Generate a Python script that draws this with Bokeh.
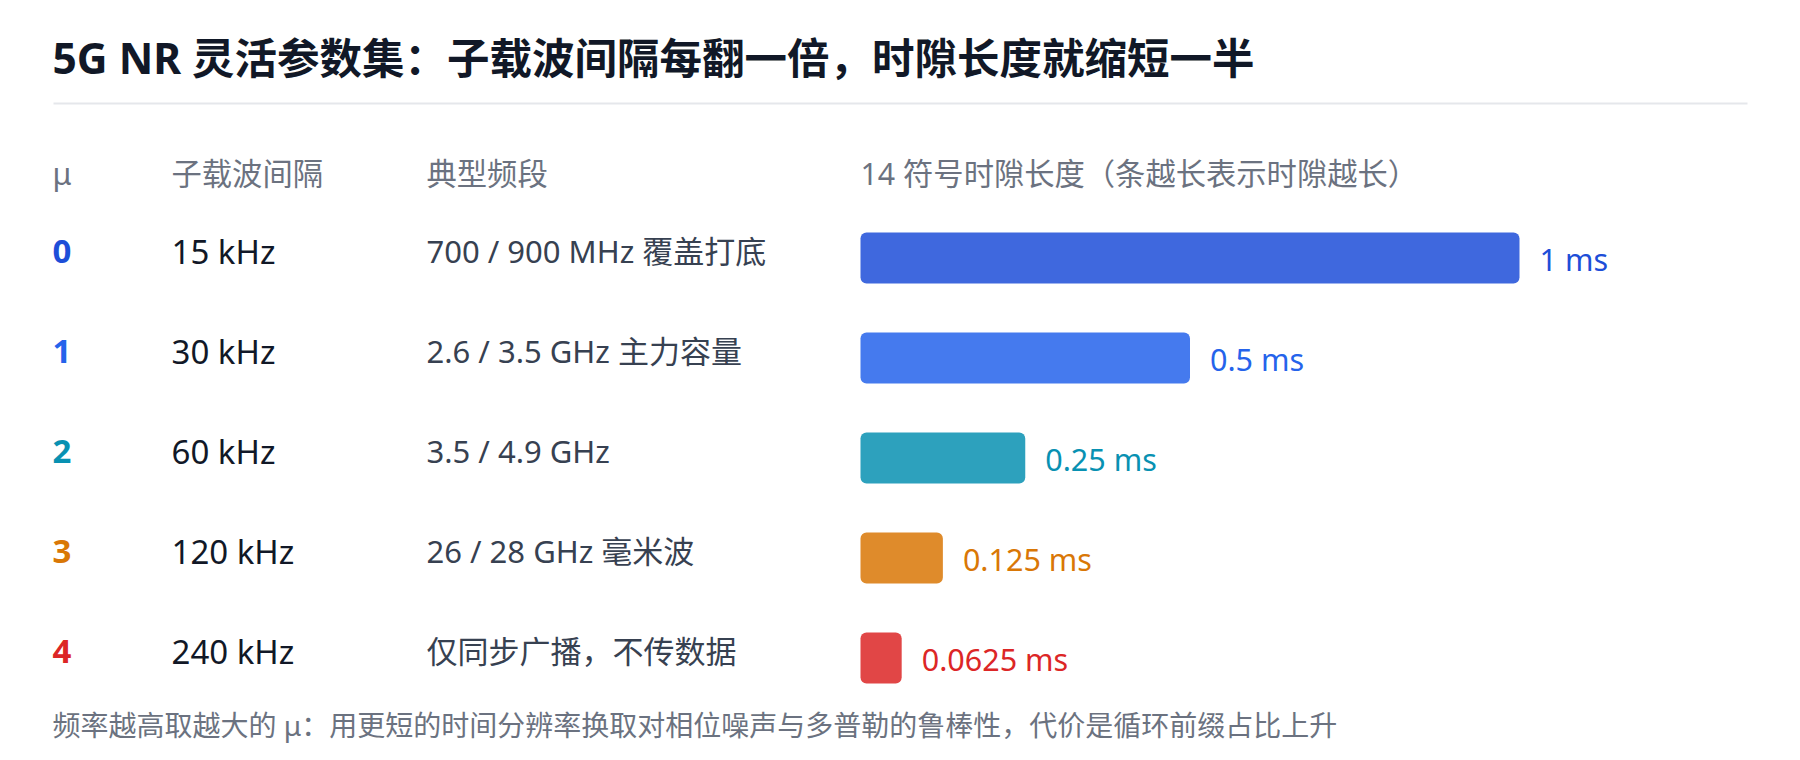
from bokeh.plotting import figure
from bokeh.models import Range1d, ColumnDataSource, Label
from bokeh.core.properties import value
from bokeh.embed import file_html
from bokeh.resources import INLINE

# ---------------- data ----------------
title_text = "5G NR 灵活参数集：子载波间隔每翻一倍，时隙长度就缩短一半"
headers = ["μ", "子载波间隔", "典型频段", "14 符号时隙长度（条越长表示时隙越长）"]
mu = ["0", "1", "2", "3", "4"]
scs = ["15 kHz", "30 kHz", "60 kHz", "120 kHz", "240 kHz"]
bands = ["700 / 900 MHz 覆盖打底", "2.6 / 3.5 GHz 主力容量", "3.5 / 4.9 GHz",
         "26 / 28 GHz 毫米波", "仅同步广播，不传数据"]
slot_ms = [1.0, 0.5, 0.25, 0.125, 0.0625]
slot_labels = ["1 ms", "0.5 ms", "0.25 ms", "0.125 ms", "0.0625 ms"]
colors = ["#1d4ed8", "#2563eb", "#0891b2", "#d97706", "#dc2626"]
footnote = "频率越高取越大的 μ：用更短的时间分辨率换取对相位噪声与多普勒的鲁棒性，代价是循环前缀占比上升"

# ---------------- layout ----------------
W, H = 1784, 744
FONT_STR = "'Noto Sans', 'Noto Sans CJK SC', sans-serif"
FONT = value(FONT_STR)
COL_MU, COL_SCS, COL_BAND, BAR_X0 = 52, 171, 426, 860
PX_PER_MS = 659
ROW0, ROW_STEP = 257.5, 100

p = figure(width=W, height=H, output_backend="svg", toolbar_location=None,
           x_range=Range1d(0, W), y_range=Range1d(H, 0),
           min_border=0, outline_line_color=None, background_fill_color="white",
           border_fill_color="white")
p.xaxis.visible = False
p.yaxis.visible = False
p.grid.visible = False

p.extra_x_ranges = {"ms": Range1d(-BAR_X0 / PX_PER_MS, (W - BAR_X0) / PX_PER_MS)}
p.extra_y_ranges = {"rows": Range1d((H - ROW0) / ROW_STEP, -ROW0 / ROW_STEP)}

rows = list(range(len(mu)))
src = ColumnDataSource(dict(row=rows, mu=mu, scs=scs, band=bands, ms=slot_ms,
                            lab=slot_labels, color=colors,
                            zero=[0] * len(mu)))

# title + separator
p.add_layout(Label(x=52, y=57, text=title_text, text_font=FONT_STR, text_font_size="42.5px",
                   text_font_style="bold", text_color="#111827", text_baseline="alphabetic"))
p.segment(x0=[53], y0=[103], x1=[1747], y1=[103], line_color="#e5e7eb", line_width=2)

# headers
for hx, ht in zip([COL_MU, COL_SCS, COL_BAND, BAR_X0], headers):
    p.add_layout(Label(x=hx, y=172.5, text=ht, text_font=FONT_STR, text_font_size="30.3px",
                       text_color="#6b7280", text_baseline="alphabetic"))

# bars
p.hbar(y="row", left="zero", right="ms", height=0.51, source=src,
       x_range_name="ms", y_range_name="rows", fill_color="color", fill_alpha=0.85,
       line_color=None, border_radius=6)

# row texts
p.text(x=COL_MU, y="row", text="mu", source=src, y_range_name="rows",
       text_font=FONT, text_font_size="33px", text_font_style="bold",
       text_color="color", text_baseline="alphabetic", y_offset=-7)
p.text(x=COL_SCS, y="row", text="scs", source=src, y_range_name="rows",
       text_font=FONT, text_font_size="33px", text_color="#111827",
       text_baseline="alphabetic", y_offset=-7)
p.text(x=COL_BAND, y="row", text="band", source=src, y_range_name="rows",
       text_font=FONT, text_font_size="31px", text_color="#374151",
       text_baseline="alphabetic", y_offset=-7)
p.text(x="ms", y="row", text="lab", source=src, x_range_name="ms", y_range_name="rows",
       text_font=FONT, text_font_size="30.5px", text_color="color",
       text_baseline="alphabetic", x_offset=20, y_offset=1)

# footnote
p.add_layout(Label(x=52, y=724.5, text=footnote, text_font=FONT_STR, text_font_size="28px",
                   text_color="#6b7280", text_baseline="alphabetic"))

open("out.html", "w").write(file_html(p, INLINE))
